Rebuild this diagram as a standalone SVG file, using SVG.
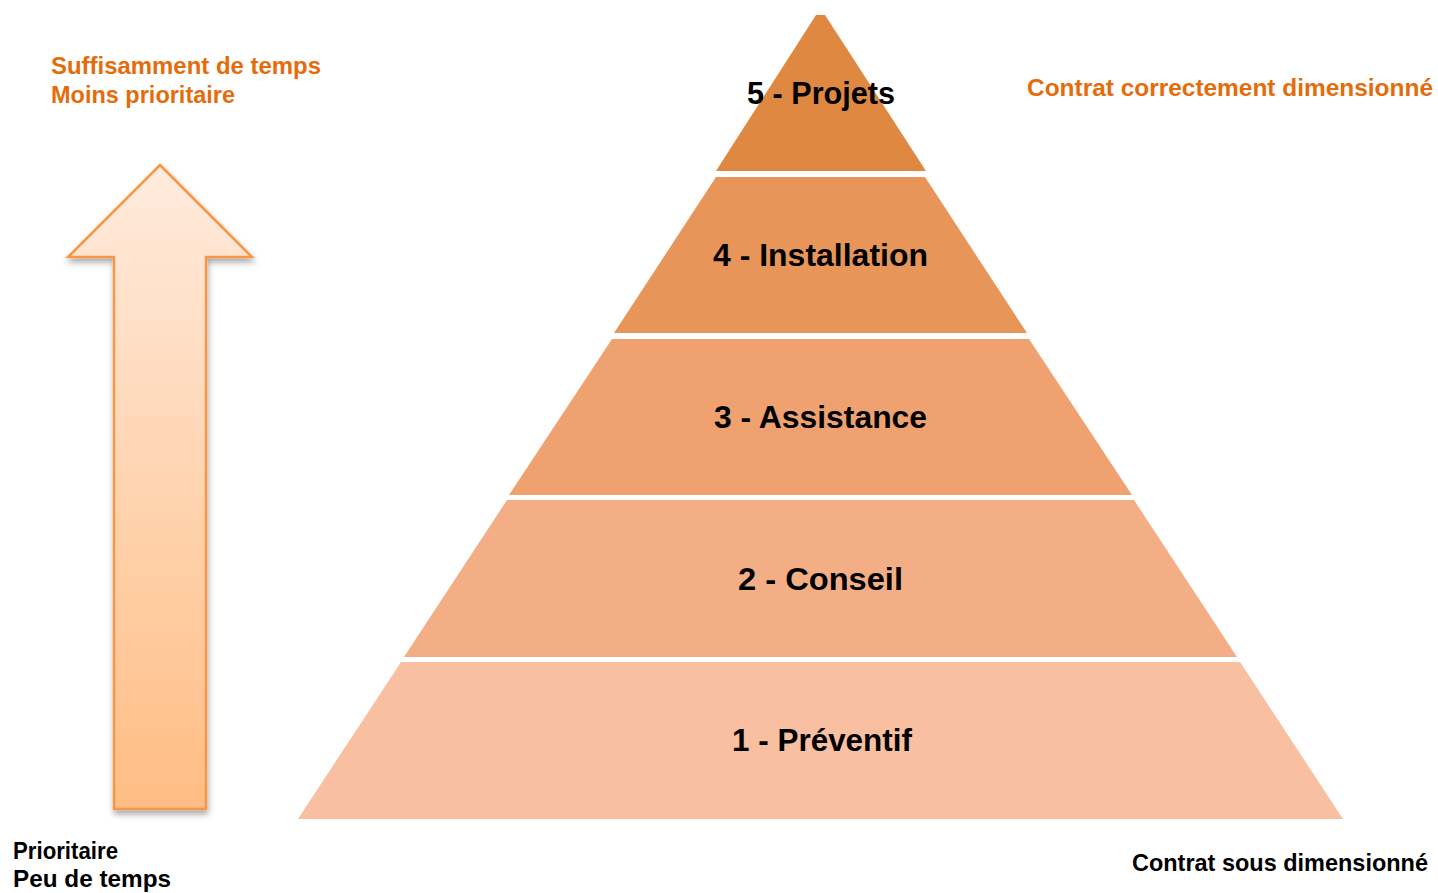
<svg xmlns="http://www.w3.org/2000/svg" width="1438" height="893" viewBox="0 0 1438 893">
  <style>
    .lbl { font-family: "Liberation Sans", Arial, sans-serif; font-weight: bold; font-size: 32px; fill: #000000; }
    .note { font-family: "Liberation Sans", Arial, sans-serif; font-weight: bold; font-size: 24px; }
    .orange { fill: #E46C0A; }
    .black { fill: #000000; }
  </style>
  <defs>
    <linearGradient id="arrowGrad" x1="0" y1="0" x2="0" y2="1">
      <stop offset="0" stop-color="#FFEBDD"/>
      <stop offset="1" stop-color="#FFBD84"/>
    </linearGradient>
    <filter id="shadow" x="-20%" y="-10%" width="140%" height="120%">
      <feDropShadow dx="1" dy="4" stdDeviation="3" flood-color="#000000" flood-opacity="0.35"/>
    </filter>
  </defs>
  <rect width="1438" height="893" fill="#FFFFFF"/>

  <g id="arrow">
    <polygon points="160,165 252,257 206,257 206,809 114,809 114,257 68,257" fill="url(#arrowGrad)" stroke="#F79646" stroke-width="2.5" filter="url(#shadow)"/>
  </g>

  <g id="layer1">
    <polygon points="401,662 1240,662 1343,819 298,819" fill="#F8BFA0"/>
    <text class="lbl" x="732" y="751" textLength="180" lengthAdjust="spacingAndGlyphs">1 - Préventif</text>
  </g>
  <g id="layer2">
    <polygon points="507,500 1134,500 1237,657 404,657" fill="#F4AE85"/>
    <text class="lbl" x="738" y="590" textLength="165" lengthAdjust="spacingAndGlyphs">2 - Conseil</text>
  </g>
  <g id="layer3">
    <polygon points="612,339 1029,339 1132,495 509,495" fill="#EFA270"/>
    <text class="lbl" x="714" y="428" textLength="213" lengthAdjust="spacingAndGlyphs">3 - Assistance</text>
  </g>
  <g id="layer4">
    <polygon points="716,177 925,177 1027,333 614,333" fill="#E8955A"/>
    <text class="lbl" x="713" y="266" textLength="215" lengthAdjust="spacingAndGlyphs">4 - Installation</text>
  </g>
  <g id="layer5">
    <polygon points="816,15 825,15 926,171 716,171" fill="#DF8841"/>
    <text class="lbl" x="747" y="104" textLength="148" lengthAdjust="spacingAndGlyphs">5 - Projets</text>
  </g>

  <g id="notes">
    <text class="note orange" x="51" y="74" textLength="270" lengthAdjust="spacingAndGlyphs">Suffisamment de temps</text>
    <text class="note orange" x="51" y="103" textLength="184" lengthAdjust="spacingAndGlyphs">Moins prioritaire</text>
    <text class="note orange" x="1027" y="96" textLength="406" lengthAdjust="spacingAndGlyphs">Contrat correctement dimensionné</text>
    <text class="note black" x="13" y="859" textLength="105" lengthAdjust="spacingAndGlyphs">Prioritaire</text>
    <text class="note black" x="13" y="887" textLength="158" lengthAdjust="spacingAndGlyphs">Peu de temps</text>
    <text class="note black" x="1132" y="871" textLength="296" lengthAdjust="spacingAndGlyphs">Contrat sous dimensionné</text>
  </g>
  <g id="connectors"/>
</svg>
